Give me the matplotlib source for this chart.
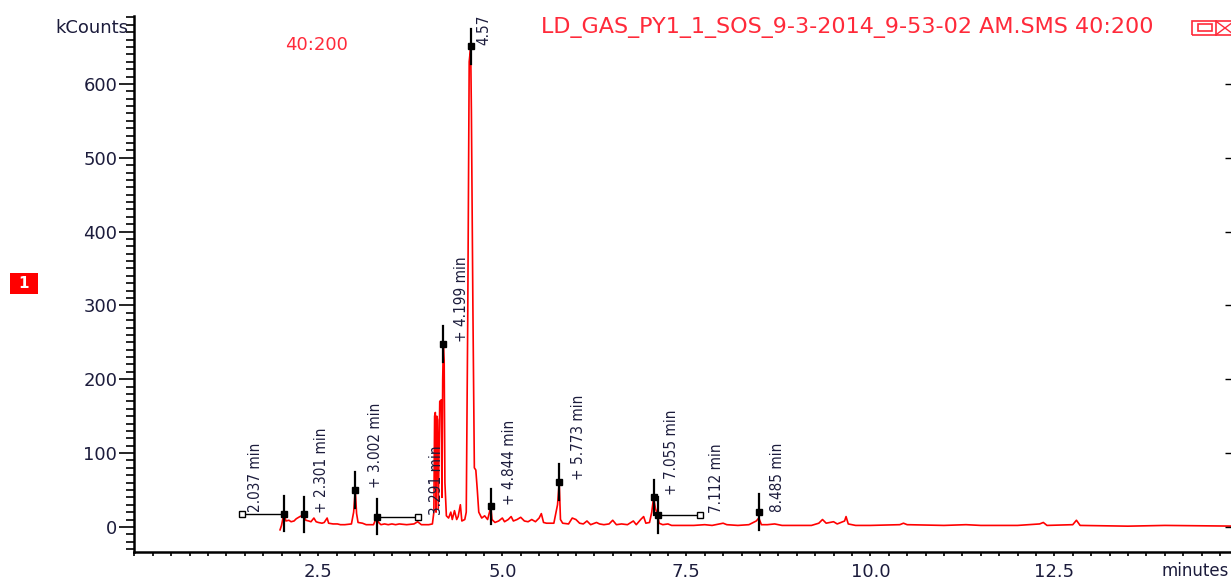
import matplotlib
matplotlib.use("Agg")
import matplotlib.pyplot as plt
from matplotlib import font_manager
from matplotlib.patches import Rectangle
from matplotlib.lines import Line2D
from matplotlib.ticker import MultipleLocator, FixedLocator, FormatStrFormatter

# chromatogram trace (minutes, kCounts)
rt = [1.98, 2.00, 2.02, 2.037, 2.06, 2.10, 2.13, 2.17, 2.20, 2.25, 2.301, 2.33, 2.37,
      2.40, 2.44, 2.47, 2.50, 2.55, 2.58, 2.62, 2.64, 2.70, 2.76, 2.80, 2.86, 2.95,
      2.98, 3.002, 3.02, 3.04, 3.10, 3.15, 3.20, 3.25, 3.291, 3.32, 3.35, 3.40, 3.45,
      3.50, 3.55, 3.60, 3.70, 3.80, 3.85, 3.90, 4.00, 4.05, 4.07, 4.08, 4.09, 4.10,
      4.11, 4.12, 4.13, 4.15, 4.17, 4.18, 4.19, 4.199, 4.21, 4.22, 4.24, 4.27, 4.30,
      4.32, 4.35, 4.38, 4.40, 4.43, 4.45, 4.49, 4.51, 4.53, 4.55, 4.57, 4.58, 4.60,
      4.62, 4.64, 4.66, 4.68, 4.72, 4.76, 4.80, 4.844, 4.86, 4.90, 4.95, 5.00, 5.03,
      5.08, 5.12, 5.15, 5.20, 5.25, 5.30, 5.35, 5.40, 5.45, 5.50, 5.53, 5.56, 5.60,
      5.65, 5.70, 5.75, 5.773, 5.79, 5.82, 5.90, 5.95, 6.00, 6.05, 6.10, 6.15, 6.20,
      6.28, 6.32, 6.38, 6.45, 6.50, 6.55, 6.62, 6.70, 6.78, 6.82, 6.88, 6.92, 6.95,
      7.00, 7.03, 7.055, 7.08, 7.112, 7.13, 7.18, 7.25, 7.30, 7.40, 7.60, 7.75, 7.85,
      7.95, 8.00, 8.05, 8.20, 8.35, 8.45, 8.485, 8.52, 8.60, 8.70, 8.80, 9.00, 9.20,
      9.30, 9.35, 9.40, 9.50, 9.55, 9.65, 9.67, 9.70, 9.80, 10.0, 10.4, 10.45, 10.5,
      11.0, 11.3, 11.5, 12.0, 12.3, 12.35, 12.4, 12.75, 12.80, 12.85, 13.5, 14.0, 15.0]
kcounts = [-4, 2, 12, 17, 8, 9, 7, 8, 11, 14, 16, 9, 8,
           7, 12, 7, 6, 5, 6, 12, 5, 4, 4, 3, 3, 4,
           20, 50, 18, 6, 5, 3, 3, 3, 13, 6, 3, 4, 3,
           4, 3, 4, 3, 4, 7, 3, 3, 4, 20, 150, 155, 20,
           150, 145, 25, 170, 172, 40, 200, 248, 225, 60, 15, 12, 20,
           10, 22, 10, 14, 30, 8, 10, 20, 280, 630, 650, 561, 300,
           80, 77, 50, 20, 12, 15, 10, 27, 10, 6, 8, 12, 7,
           10, 14, 8, 10, 13, 8, 7, 10, 7, 12, 18, 6, 5,
           5, 5, 30, 60, 10, 5, 4, 12, 10, 5, 4, 8, 3,
           6, 4, 3, 4, 9, 3, 4, 3, 8, 3, 10, 14, 5,
           6, 20, 40, 25, 16, 5, 3, 4, 2, 2, 2, 3, 2,
           4, 5, 3, 2, 3, 8, 12, 3, 3, 4, 2, 2, 2,
           5, 10, 5, 7, 4, 8, 14, 4, 2, 2, 3, 5, 3,
           2, 3, 2, 2, 4, 6, 2, 3, 9, 2, 1, 2, 1]

# integrated peaks: retention time, apex height, label text
peak_rt = [2.037, 2.301, 3.002, 3.291, 4.199, 4.57, 4.844, 5.773, 7.055, 7.112, 8.485]
peak_height = [18, 17, 50, 14, 248, 651, 28, 61, 40, 16, 20]
peak_text = ["2.037 min", "+ 2.301 min", "+ 3.002 min", "3.291 min", "+ 4.199 min", "4.57",
             "+ 4.844 min", "+ 5.773 min", "+ 7.055 min", "7.112 min", "8.485 min"]

# label placement relative to the peak (minutes, kCounts); leader = offset of the hollow box
label_dx = [-0.39, 0.24, 0.27, 0.81, 0.24, 0.18, 0.25, 0.26, 0.25, 0.80, 0.26]
label_dy = [2, 2, 3, 2, 3, 2, 2, 3, 3, 3, 0]
leader_dx = [-0.58, None, None, 0.57, None, None, None, None, None, 0.58, None]

W, H = 1231, 581
TXT = "#1c1c3c"
RED = "#ff0000"
TRED = "#ff2a3a"


def pick_condensed():
    """Find an installed narrow/condensed sans face for the rotated peak labels."""
    fl = font_manager.fontManager.ttflist
    for pref in ["Liberation Sans Narrow", "DejaVu Sans", "Noto Sans", "Roboto", "Open Sans"]:
        for f in fl:
            st = f.stretch
            cond = (isinstance(st, str) and "condensed" in st) or (isinstance(st, int) and st < 500)
            if f.name == pref and f.style == "normal" and (cond or "Narrow" in f.name) \
                    and f.weight in (400, "normal", "regular"):
                return f.fname
    return None


cond_file = pick_condensed()
if cond_file:
    label_font = dict(fontproperties=font_manager.FontProperties(fname=cond_file, size=11))
else:
    label_font = dict(family=["Liberation Sans", "DejaVu Sans"], fontsize=11)

plt.rcParams["font.family"] = "DejaVu Sans"

fig = plt.figure(figsize=(W / 100, H / 100), dpi=100)
ax = fig.add_axes([134.3 / W, 1 - 552 / H, 1 - 134.3 / W, (552 - 16) / H])
ax.set_xlim(0, 14.9)
ax.set_ylim(-34, 692)

ax.plot(rt, kcounts, color=RED, lw=1.2, zorder=2)

for i, t in enumerate(peak_rt):
    h = peak_height[i]
    ax.plot([t, t], [h - 24, h + 24], color="black", lw=1.6, zorder=3)
    ax.plot(t, h, "s", color="black", ms=5, zorder=4)
    if leader_dx[i] is not None:
        xb = t + leader_dx[i]
        ax.plot([xb, t], [h, h], color="black", lw=1.0, zorder=3)
        ax.plot(xb, h, "s", mfc="white", mec="black", mew=1.0, ms=4.5, zorder=4)
    ax.text(t + label_dx[i], h + label_dy[i], peak_text[i], rotation=90, ha="center",
            va="bottom", color=TXT, zorder=5, **label_font)

for s in ["top", "right"]:
    ax.spines[s].set_visible(False)
for s in ["left", "bottom"]:
    ax.spines[s].set_linewidth(1.8)

ax.yaxis.set_major_locator(FixedLocator([0, 100, 200, 300, 400, 500, 600]))
ax.yaxis.set_minor_locator(MultipleLocator(10))
ax.xaxis.set_major_locator(FixedLocator([2.5, 5.0, 7.5, 10.0, 12.5]))
ax.xaxis.set_minor_locator(MultipleLocator(0.25))
ax.xaxis.set_major_formatter(FormatStrFormatter("%.1f"))
ax.tick_params(axis="y", which="major", length=10.8, width=1.2, pad=1.5, labelsize=13,
               labelcolor=TXT)
ax.tick_params(axis="y", which="minor", length=5.8, width=1.2)
ax.tick_params(axis="x", which="both", length=3, width=1.2, pad=5, labelsize=13, labelcolor=TXT)

# short inward ticks on the right edge
ax2 = ax.twinx()
ax2.set_ylim(ax.get_ylim())
ax2.yaxis.set_major_locator(FixedLocator([0, 100, 200, 300, 400, 500, 600]))
ax2.tick_params(axis="y", direction="in", length=4.3, width=1.0, labelright=False)
for s in ax2.spines.values():
    s.set_visible(False)

fig.text(128 / W, 1 - 28 / H, "kCounts", ha="right", va="center", fontsize=13, color=TXT)
fig.text(316 / W, 1 - 45 / H, "40:200", ha="center", va="center", fontsize=13, color=TRED)
fig.text(847 / W, 1 - 28 / H, "LD_GAS_PY1_1_SOS_9-3-2014_9-53-02 AM.SMS 40:200",
         ha="center", va="center", fontsize=16, color=TRED)
fig.text(1229 / W, 0.001, "minutes", ha="right", va="bottom", fontsize=12, color=TXT)

# red channel badge
fig.patches.append(Rectangle((10 / W, 1 - 294 / H), 28 / W, 21 / H, transform=fig.transFigure,
                             facecolor="#ff0000", edgecolor="none"))
fig.text(24 / W, 1 - 283.5 / H, "1", ha="center", va="center", fontsize=11, color="white",
         weight="bold")

# window buttons at top right
fig.patches.append(Rectangle((1192 / W, 1 - 35 / H), 42 / W, 14 / H, transform=fig.transFigure,
                             facecolor="none", edgecolor=TRED, lw=1.2))
fig.patches.append(Rectangle((1198 / W, 1 - 31 / H), 14 / W, 7 / H, transform=fig.transFigure,
                             facecolor="none", edgecolor=TRED, lw=1.2))
fig.lines.append(Line2D([1216 / W, 1216 / W], [1 - 35 / H, 1 - 21 / H], transform=fig.transFigure,
                        color=TRED, lw=1.2))
fig.lines.append(Line2D([1217 / W, 1233 / W], [1 - 22 / H, 1 - 34 / H], transform=fig.transFigure,
                        color=TRED, lw=1.0))
fig.lines.append(Line2D([1217 / W, 1233 / W], [1 - 34 / H, 1 - 22 / H], transform=fig.transFigure,
                        color=TRED, lw=1.0))

fig.savefig("out.png", dpi=100)
